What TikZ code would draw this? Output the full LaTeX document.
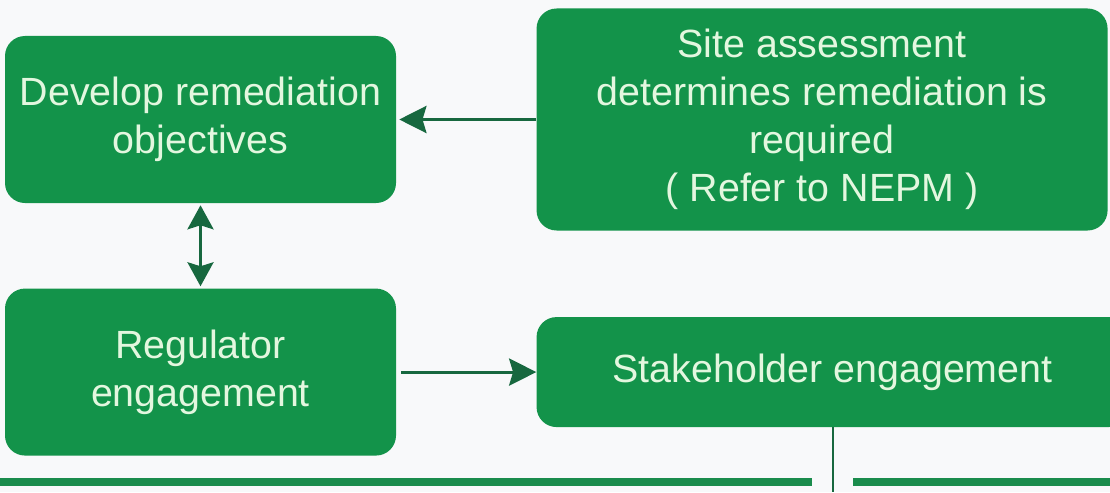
\documentclass[tikz,border=0pt]{standalone}
\usepackage{fontspec}
\setmainfont{Liberation Sans}
\usepackage{xcolor}
\usetikzlibrary{arrows.meta,positioning,calc}

\definecolor{boxgreen}{HTML}{13934A}
\definecolor{arrowgreen}{HTML}{17683F}
\definecolor{textgreen}{HTML}{E3F7DF}
\definecolor{bargreen}{HTML}{1A8C4C}
\definecolor{paper}{HTML}{F8F9FA}

\begin{document}
\begin{tikzpicture}[
    node distance=2.125cm and 3.5cm,
    box/.style={rectangle, fill=boxgreen, rounded corners=0.5cm, minimum width=9.775cm, minimum height=4.175cm, align=center, inner sep=0pt, text=textgreen, font=\fontsize{28}{34}\selectfont},
    widebox/.style={box, minimum width=14.275cm},
    arrow/.style={-{Stealth[length=0.68cm, width=0.68cm, inset=0.1cm]}, line width=2.1pt, arrowgreen},
    dblarrow/.style={arrow, {Stealth[length=0.6cm, width=0.65cm, inset=0.1cm]}-{Stealth[length=0.6cm, width=0.65cm, inset=0.1cm]}},
    bar/.style={line width=0.22cm, bargreen}
]

% Page
\fill[paper] (0,0) rectangle (27.75,-12.3);
\clip (0,0) rectangle (27.75,-12.3);

% Top row
\node[box] (objectives) at (5.0125,-2.9875) {Develop remediation\\objectives};
\node[widebox, minimum height=5.55cm, right=3.5cm of objectives] (assess) {Site assessment\\determines remediation is\\required\\( Refer to NEPM )};

% Bottom row
\node[box, below=of objectives] (regulator) {Regulator\\engagement};
\node[widebox, minimum width=14.8cm, minimum height=2.75cm, right=3.5cm of regulator] (stake) {Stakeholder engagement};

% Arrows
\draw[arrow, shorten >=0.075cm] (assess.west) -- (assess.west -| objectives.east);
\draw[dblarrow, shorten <=0.05cm, shorten >=0.05cm] (objectives) -- (regulator);
\draw[arrow, shorten <=0.125cm] (regulator.east) -- (regulator.east -| stake.west);

% Drop line and bars
\coordinate (drop) at (stake.south |- 0,-12.3);
\draw[line width=1.4pt, arrowgreen] (stake.south) -- (drop);
\draw[bar] (0,-12.05) -- (20.3,-12.05);
\draw[bar] (21.325,-12.05) -- (27.75,-12.05);

\end{tikzpicture}
\end{document}
